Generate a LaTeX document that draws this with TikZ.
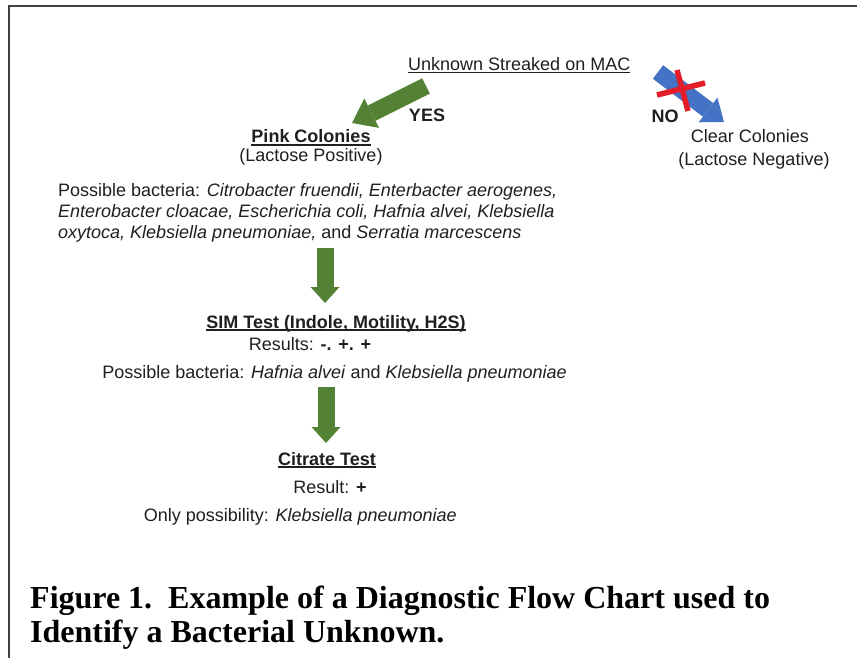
\documentclass[tikz,border=0pt]{standalone}
\usepackage{fontspec}
\setmainfont{Liberation Sans}
\newfontfamily\capfont{Liberation Serif}
\usepackage{tikz}
\usetikzlibrary{arrows.meta,positioning}
\definecolor{arrowgreen}{RGB}{84,130,53}
\definecolor{arrowblue}{RGB}{68,114,196}
\definecolor{crossred}{RGB}{228,28,40}
\newcommand{\spc}[1]{\textit{#1}}
\newcommand{\undl}[1]{\setbox0\hbox{#1}\rlap{\rule[-2.5pt]{\wd0}{1.2pt}}\box0}

\begin{document}
\begin{tikzpicture}[x=1pt,y=-1pt,
    txt/.style={inner sep=0pt, text=black!88, font=\fontsize{18}{21}\selectfont},
    boldtxt/.style={inner sep=0pt, text=black!88, font=\fontsize{18}{21}\selectfont\bfseries},
    captxt/.style={inner sep=0pt, text=black, font=\capfont\fontsize{32}{34}\selectfont\bfseries},
    downarrow/.style={line width=17pt, draw=arrowgreen, -{Triangle[length=16pt,width=29pt,line width=0pt,fill=arrowgreen]}},
    yesarrow/.style={line width=17pt, draw=arrowgreen, -{Triangle[length=22pt,width=33pt,line width=0pt,fill=arrowgreen]}},
    noarrow/.style={line width=17pt, draw=arrowblue, -{Triangle[length=20pt,width=31pt,line width=0pt,fill=arrowblue]}},
    crossline/.style={line width=5.5pt, draw=crossred}]

    \useasboundingbox (0,0) rectangle (857,658);

    % Frame, top and left edges only
    \draw[line width=2pt, black!75] (857,6) -- (8.5,6) -- (8.5,658);

    % Starting point
    \node[txt, anchor=base west] (mac) at (408,71) {\undl{Unknown Streaked on MAC}};

    % Lactose positive branch
    \coordinate (yesTail) at (426,86);
    \coordinate (yesTip) at (352,123);
    \draw[yesarrow] (yesTail) -- (yesTip);
    \node[boldtxt, anchor=base] (yes) at (427,122) {YES};
    \node[boldtxt, anchor=base] (pink) at (311,143) {\undl{Pink Colonies}};
    \node[txt, anchor=base] (lacpos) at (311,162) {(Lactose Positive)};
    \node[txt, anchor=north west, align=left] (list1) at (58,183)
        {Possible bacteria: \spc{Citrobacter fruendii, Enterbacter aerogenes,}\\
         \spc{Enterobacter cloacae, Escherichia coli, Hafnia alvei, Klebsiella}\\
         \spc{oxytoca, Klebsiella pneumoniae,} and \spc{Serratia marcescens}};

    % Lactose negative branch (crossed out)
    \coordinate (noTail) at (658,72);
    \coordinate (noTip) at (724,122);
    \draw[noarrow] (noTail) -- (noTip);
    \draw[crossline] (677,70) -- (688,111);
    \draw[crossline] (657,95) -- (705,83);
    \node[boldtxt, anchor=base] (no) at (665,123) {NO};
    \node[txt, anchor=base] (clear) at (750,143) {Clear Colonies};
    \node[txt, anchor=base] (lacneg) at (754,165) {(Lactose Negative)};

    % SIM test
    \coordinate (simTop) at (325,248);
    \coordinate (simTip) at (325,303);
    \draw[downarrow] (simTop) -- (simTip);
    \node[boldtxt, anchor=base] (sim) at (336,328) {\undl{SIM Test (Indole, Motility, H2S)}};
    \node[txt, anchor=base] (simres) at (310,350) {Results: \textbf{-. +. +}};
    \node[txt, anchor=base east] (list2) at (567,378)
        {Possible bacteria: \spc{Hafnia alvei} and \spc{Klebsiella pneumoniae}};

    % Citrate test
    \coordinate (citTop) at (326,387);
    \coordinate (citTip) at (326,443);
    \draw[downarrow] (citTop) -- (citTip);
    \node[boldtxt, anchor=base] (citrate) at (327,465) {\undl{Citrate Test}};
    \node[txt, anchor=base] (citres) at (330,493) {Result: \textbf{+}};
    \node[txt, anchor=base east] (final) at (457,521)
        {Only possibility: \spc{Klebsiella pneumoniae}};

    % Caption
    \node[captxt, anchor=north west, align=left] (caption) at (30,586)
        {Figure 1.\ \ Example of a Diagnostic Flow Chart used to\\
         Identify a Bacterial Unknown.};
\end{tikzpicture}
\end{document}
